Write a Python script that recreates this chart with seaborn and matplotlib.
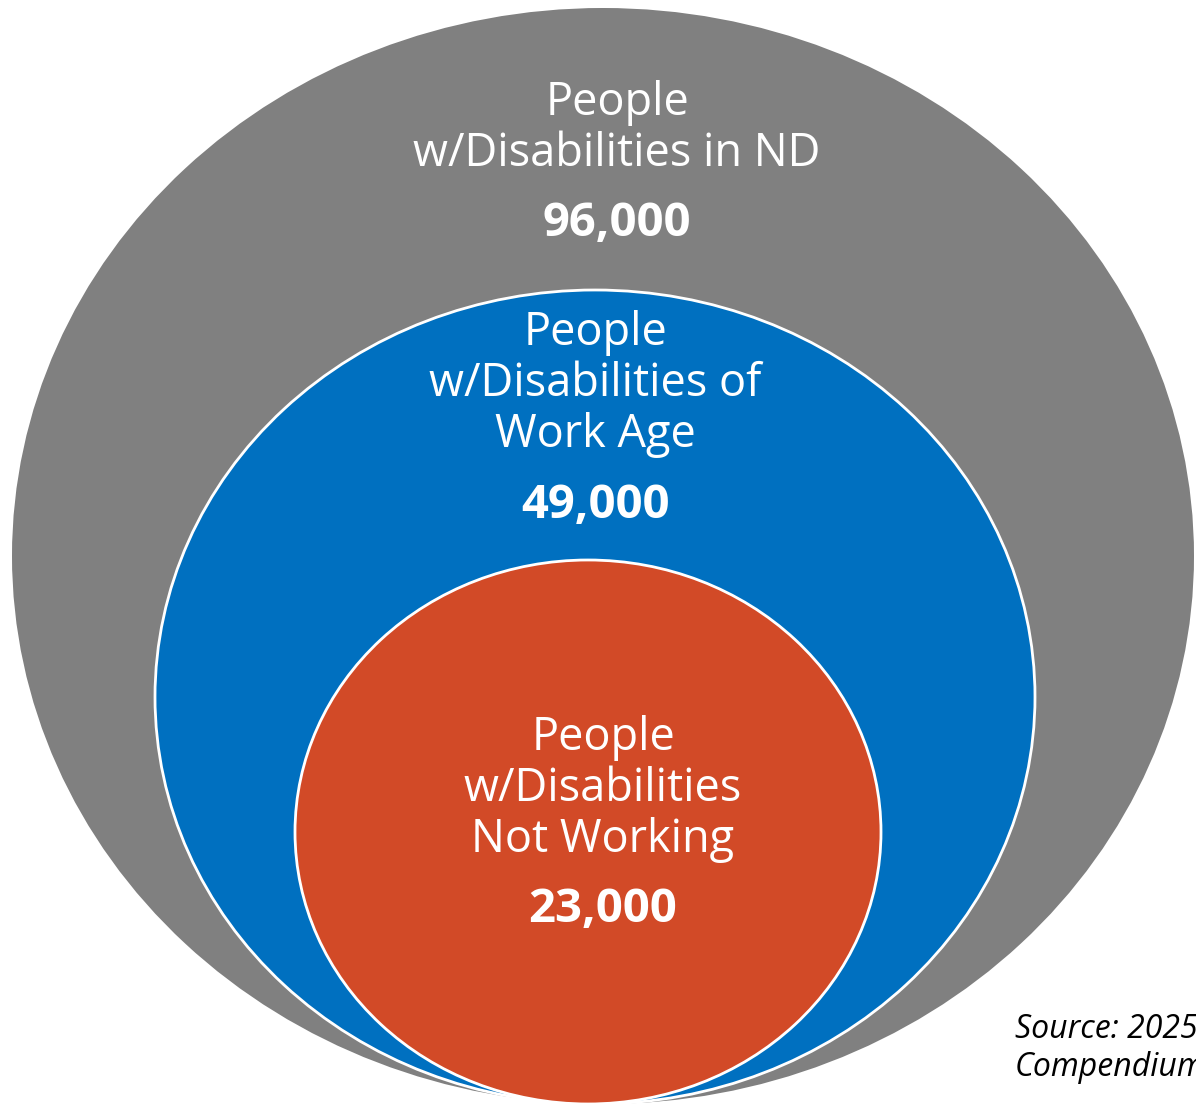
import matplotlib.pyplot as plt
import seaborn as sns
from matplotlib.patches import Ellipse

# data
labels = [["People", "w/Disabilities in ND"],
          ["People", "w/Disabilities of", "Work Age"],
          ["People", "w/Disabilities", "Not Working"]]
values = [96000, 49000, 23000]
source_lines = ["Source: 2025", "Compendium"]

# layout (pixels): ellipse boxes and text anchors
ell_center = [(603, 556), (595, 697), (588, 832)]
ell_size = [(1182, 1096), (880, 814), (586, 544)]
text_x = [617, 595, 603]
text_y0 = [103, 333, 738]
value_y = [223, 506, 910]
colors = ["#808080", "#0070C0", "#D24A27"]
edges = ["none", "white", "white"]

sns.set_theme(style="white")
plt.rcParams['font.family'] = ['Open Sans', 'DejaVu Sans']

fig = plt.figure(figsize=(11.96, 11.04), dpi=100)
ax = fig.add_axes([0, 0, 1, 1])
ax.set_xlim(0, 1196)
ax.set_ylim(1104, 0)
ax.axis('off')

for i in range(3):
    (cx, cy), (w, h) = ell_center[i], ell_size[i]
    ax.add_patch(Ellipse((cx, cy), w, h, facecolor=colors[i],
                         edgecolor=edges[i], linewidth=2))
    for j, line in enumerate(labels[i]):
        ax.text(text_x[i], text_y0[i] + j * 51, line, color='white',
                fontsize=32.5, ha='center', va='center')
    ax.text(text_x[i], value_y[i], f"{values[i]:,}", color='white',
            fontsize=34, fontweight='bold', ha='center', va='center')

# source note runs off the right edge, as in the original
for j, line in enumerate(source_lines):
    ax.text(1015, 1029 + j * 39, line, color='black', fontsize=23,
            fontstyle='italic', ha='left', va='center')

fig.savefig('out.png', dpi=100)
